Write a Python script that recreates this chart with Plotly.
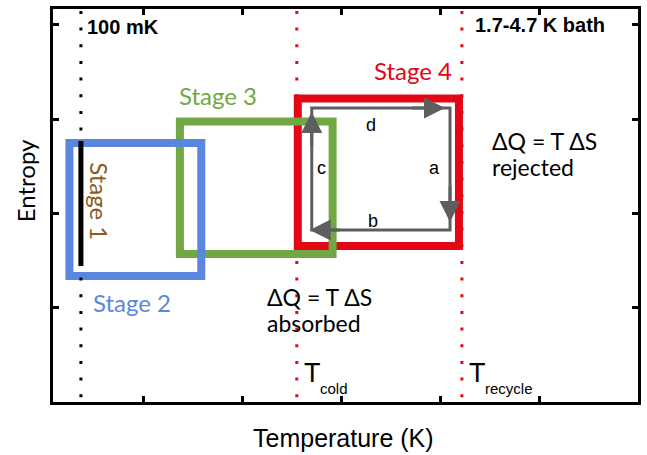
import plotly.graph_objects as go

# ---- data (axis units: ticks at integer values) ----
x_ticks = [1, 2, 3, 4, 5]
y_ticks = [1, 2, 3, 4]

# stage rectangles (Stage 4, Stage 3, Stage 2) : temperature span, entropy span
rect_names = ["Stage 4", "Stage 3", "Stage 2"]
rect_colors = ["#E30613", "#72A843", "#5B86E0"]
rect_x0 = [2.563, 1.372, 0.256]
rect_x1 = [4.191, 2.915, 1.588]
rect_y0 = [1.649, 1.564, 1.330]
rect_y1 = [3.218, 2.973, 2.745]

# stage labels
label_text = ["Stage 4", "Stage 3", "Stage 2", "Stage 1"]
label_x = [3.729, 1.759, 0.884, 0.553]
label_y = [3.511, 3.255, 1.053, 2.128]
label_colors = ["#E30613", "#72A843", "#5B86E0", "#8A5A1E"]
label_angle = [0, 0, 0, 90]

# Stage 1 (isothermal at 100 mK)
stage1_x = [0.372, 0.372]
stage1_y = [2.766, 1.436]

# reference temperatures (dotted verticals)
bath_x = 0.372          # 100 mK
t_cold = 2.553
t_recycle = 4.221
dot_y = [4.150, 0.040]

# Stage-4 cycle corners (a-b-c-d)
cyc_x0, cyc_x1 = 2.704, 4.101
cyc_y0, cyc_y1 = 1.819, 3.117
# arrow tips (x, y) and tails
arrow_tip_x = [4.050, 4.101, 2.683, 2.704]
arrow_tip_y = [3.117, 1.904, 1.819, 3.074]
arrow_tail_x = [3.700, 4.101, 3.000, 2.704]
arrow_tail_y = [3.117, 2.300, 1.819, 2.700]
step_text = ["d", "a", "b", "c"]
step_x = [3.307, 3.940, 3.327, 2.804]
step_y = [2.936, 2.479, 1.915, 2.479]

CAL = "Lato, 'Open Sans', sans-serif"
ARI = "Liberation Sans, Arial, sans-serif"

fig = go.Figure()

# dotted verticals
fig.add_trace(go.Scatter(x=[bath_x, bath_x], y=dot_y, mode="lines",
                         line=dict(color="black", width=3, dash="3px,13.67px"),
                         hoverinfo="skip", showlegend=False))
for tx in (t_cold, t_recycle):
    fig.add_trace(go.Scatter(x=[tx, tx], y=dot_y, mode="lines",
                             line=dict(color="#E30613", width=3, dash="3px,13.67px"),
                             hoverinfo="skip", showlegend=False))

# Stage 1 line
fig.add_trace(go.Scatter(x=stage1_x, y=stage1_y, mode="lines",
                         line=dict(color="black", width=5),
                         hoverinfo="skip", showlegend=False))

shapes = []
for x0, x1, y0, y1, c in zip(rect_x0, rect_x1, rect_y0, rect_y1, rect_colors):
    shapes.append(dict(type="rect", xref="x", yref="y", x0=x0, x1=x1, y0=y0, y1=y1,
                       line=dict(color=c, width=8), fillcolor="rgba(0,0,0,0)",
                       layer="below"))
shapes.append(dict(type="rect", xref="x", yref="y", x0=cyc_x0, x1=cyc_x1,
                   y0=cyc_y0, y1=cyc_y1, line=dict(color="#5E5E5E", width=3),
                   fillcolor="rgba(0,0,0,0)", layer="above"))

ann = []
for tx, ty, ax, ay in zip(arrow_tip_x, arrow_tip_y, arrow_tail_x, arrow_tail_y):
    ann.append(dict(x=tx, y=ty, ax=ax, ay=ay, xref="x", yref="y", axref="x", ayref="y",
                    text="", showarrow=True, arrowhead=2, arrowsize=1.4,
                    arrowwidth=3, arrowcolor="#5E5E5E", standoff=0))
for t, x, y in zip(step_text, step_x, step_y):
    ann.append(dict(x=x, y=y, xref="x", yref="y", text=t, showarrow=False,
                    font=dict(family=ARI, size=18, color="black")))
for t, x, y, c, a in zip(label_text, label_x, label_y, label_colors, label_angle):
    ann.append(dict(x=x, y=y, xref="x", yref="y", text=t, showarrow=False,
                    textangle=a, font=dict(family=CAL, size=24, color=c)))

ann.append(dict(x=0.412, y=3.979, xref="x", yref="y", text="<b>100 mK</b>",
                xanchor="left", showarrow=False, font=dict(family=ARI, size=20, color="black")))
ann.append(dict(x=4.332, y=4.0, xref="x", yref="y", text="<b>1.7-4.7 K bath</b>",
                xanchor="left", showarrow=False, font=dict(family=ARI, size=20, color="black")))

for x, ys, lines in [(2.231, (1.106, 0.835), ("ΔQ = T ΔS", "absorbed")),
                     (4.503, (2.766, 2.489), ("ΔQ = T ΔS", "rejected"))]:
    for y, s in zip(ys, lines):
        ann.append(dict(x=x, y=y, xref="x", yref="y", text=s, xanchor="left",
                        showarrow=False, font=dict(family=CAL, size=23, color="black")))

for tx, sub in [(t_cold, "cold"), (t_recycle, "recycle")]:
    ann.append(dict(x=tx + 0.05, y=0.298, xref="x", yref="y", text="T", xanchor="left",
                    showarrow=False, font=dict(family=ARI, size=27, color="black")))
    ann.append(dict(x=tx + 0.21, y=0.138, xref="x", yref="y", text=sub, xanchor="left",
                    showarrow=False, font=dict(family=ARI, size=15, color="black")))

ann.append(dict(x=0.4966, y=-0.0916, xref="paper", yref="paper", text="Temperature (K)",
                xanchor="center", yanchor="middle",
                showarrow=False, font=dict(family=ARI, size=25, color="black")))
ann.append(dict(x=-0.0476, y=0.562, xref="paper", yref="paper", text="Entropy",
                xanchor="center", yanchor="middle",
                textangle=-90, showarrow=False, font=dict(family=CAL, size=24, color="black")))

axis_common = dict(showline=True, linecolor="black", linewidth=3, mirror="ticks",
                   ticks="inside", ticklen=6, tickwidth=3, tickcolor="black",
                   showticklabels=False, showgrid=False, zeroline=False, fixedrange=True)

fig.update_layout(
    width=647, height=455,
    margin=dict(l=53, r=6, t=9, b=53),
    paper_bgcolor="white", plot_bgcolor="white",
    xaxis=dict(range=[0.09, 6.0], tickvals=x_ticks, **axis_common),
    yaxis=dict(range=[-0.01, 4.17], tickvals=y_ticks, **axis_common),
    shapes=shapes, annotations=ann, showlegend=False,
)

fig.write_html("out.html")
